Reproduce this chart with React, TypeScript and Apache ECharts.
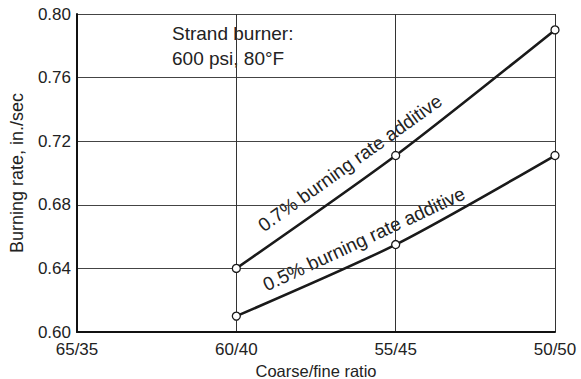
import React, { useEffect, useRef } from "react";
import * as echarts from "echarts";

const categories = ["65/35", "60/40", "55/45", "50/50"];
const series07 = [null, 0.64, 0.711, 0.79];
const series05 = [null, 0.61, 0.655, 0.711];
const yTicks = { min: 0.6, max: 0.8, interval: 0.04 };

const FONT = "'Liberation Sans', Arial, sans-serif";

export default function App() {
  const ref = useRef<HTMLDivElement>(null);
  useEffect(() => {
    const chart = echarts.init(ref.current!, null, { renderer: "svg" });
    const lineStyle = { color: "#1a1a1a", width: 2.6 };
    const itemStyle = { color: "#fff", borderColor: "#1a1a1a", borderWidth: 1.3 };
    chart.setOption({
      animation: false,
      backgroundColor: "#fff",
      grid: { left: 77, right: 26, top: 14, bottom: 47, outerBoundsMode: "none", containLabel: false },
      xAxis: {
        type: "category",
        data: categories,
        boundaryGap: false,
        name: "Coarse/fine ratio",
        nameLocation: "middle",
        nameGap: 26,
        nameTextStyle: { fontFamily: FONT, fontSize: 16.5, lineHeight: 16, color: "#222" },
        axisLine: { lineStyle: { color: "#111", width: 2 } },
        axisTick: { show: false },
        axisLabel: { fontFamily: FONT, fontSize: 17, color: "#222", margin: 9 },
        splitLine: { show: true, lineStyle: { color: "#333", width: 1 } },
      },
      yAxis: {
        type: "value",
        min: yTicks.min,
        max: yTicks.max,
        interval: yTicks.interval,
        name: "Burning rate, in./sec",
        nameLocation: "middle",
        nameGap: 51,
        nameTextStyle: { fontFamily: FONT, fontSize: 18, color: "#222" },
        axisLine: { show: true, lineStyle: { color: "#111", width: 2 } },
        axisTick: { show: false },
        axisLabel: {
          fontFamily: FONT,
          fontSize: 17,
          color: "#222",
          margin: 6,
          formatter: (v: number) => v.toFixed(2),
        },
        splitLine: { show: true, lineStyle: { color: "#444", width: 1 } },
      },
      series: [
        {
          type: "line",
          data: series07,
          smooth: 0.25,
          symbol: "circle",
          symbolSize: 8,
          showAllSymbol: true,
          lineStyle,
          itemStyle,
          z: 5,
        },
        {
          type: "line",
          data: series05,
          smooth: 0.25,
          symbol: "circle",
          symbolSize: 8,
          showAllSymbol: true,
          lineStyle,
          itemStyle,
          z: 5,
        },
      ],
      graphic: [
        {
          type: "text",
          left: 172,
          top: 21,
          style: {
            text: "Strand burner:\n600 psi, 80°F",
            fontFamily: FONT,
            fontSize: 19,
            lineHeight: 25,
            fill: "#222",
          },
        },
        {
          type: "text",
          x: 350,
          y: 163,
          rotation: (35.5 * Math.PI) / 180,
          style: {
            text: "0.7% burning rate additive",
            fontFamily: FONT,
            fontSize: 19,
            fill: "#222",
            align: "center",
            verticalAlign: "middle",
          },
        },
        {
          type: "text",
          x: 364,
          y: 239,
          rotation: (25 * Math.PI) / 180,
          style: {
            text: "0.5% burning rate additive",
            fontFamily: FONT,
            fontSize: 19,
            fill: "#222",
            align: "center",
            verticalAlign: "middle",
          },
        },
      ],
    });
    return () => chart.dispose();
  }, []);
  return (
    <div
      ref={ref}
      style={{ position: "fixed", left: 0, top: 0, width: 581, height: 379 }}
    />
  );
}
